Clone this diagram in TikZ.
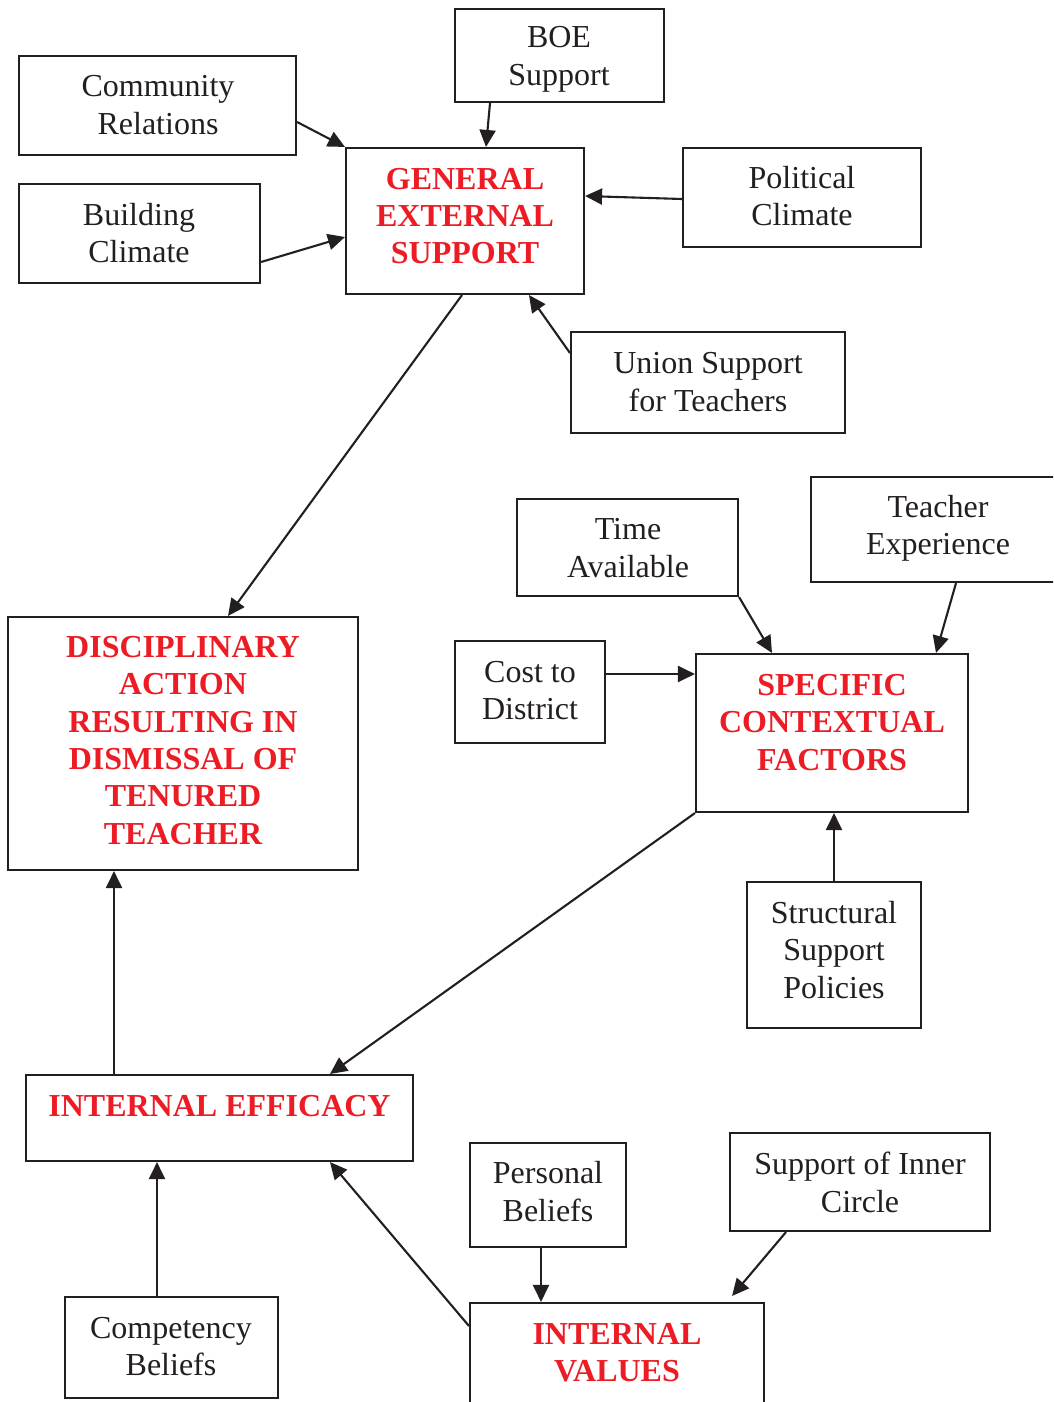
\documentclass[tikz,border=0pt]{standalone}
\usepackage{fontspec}
\setmainfont{Liberation Serif}
\usetikzlibrary{arrows.meta}
\definecolor{boxred}{RGB}{237,28,36}
\definecolor{ink}{RGB}{35,31,32}
\tikzset{
  box/.style={draw=ink, line width=2.1pt, inner sep=0pt},
  txt/.style={font={\fontsize{32}{37.5}\selectfont}, align=center, text=ink, inner sep=0pt},
  hd/.style={font={\fontsize{32}{37.3}\selectfont\bfseries}, align=center, text=boxred, inner sep=0pt},
  arr/.style={draw=ink, line width=2.1pt, -{Triangle[length=17pt,width=16pt]}}
}
\begin{document}
\begin{tikzpicture}[x=1pt,y=-1pt]
\clip (0,0) rectangle (1053,1402);
\fill[white] (0,0) rectangle (1053,1402);
% boxes
\node[box, minimum width=277pt, minimum height=99pt] (comm) at (157.5,105.5) {};
\node[box, minimum width=209pt, minimum height=93pt] (boe) at (559.5,55.5) {};
\node[box, minimum width=238pt, minimum height=146pt] (ges) at (465,221) {};
\node[box, minimum width=238pt, minimum height=99pt] (pol) at (802,197.5) {};
\node[box, minimum width=241pt, minimum height=99pt] (bld) at (139.5,233.5) {};
\node[box, minimum width=274pt, minimum height=101pt] (union) at (708,382.5) {};
\node[box, minimum width=221pt, minimum height=97pt] (time) at (627.5,547.5) {};
\node[box, minimum width=254pt, minimum height=105pt] (teach) at (938,529.5) {};
\node[box, minimum width=150pt, minimum height=102pt] (cost) at (530,692) {};
\node[box, minimum width=272pt, minimum height=158pt] (scf) at (832,733) {};
\node[box, minimum width=350pt, minimum height=253pt] (disc) at (183,743.5) {};
\node[box, minimum width=174pt, minimum height=146pt] (struct) at (834,955) {};
\node[box, minimum width=387pt, minimum height=86pt] (ie) at (219.5,1118) {};
\node[box, minimum width=156pt, minimum height=104pt] (pers) at (548,1195) {};
\node[box, minimum width=260pt, minimum height=98pt] (inner) at (860,1182) {};
\node[box, minimum width=213pt, minimum height=101pt] (comp) at (171.5,1347.5) {};
\node[box, minimum width=294pt, minimum height=120pt] (iv) at (617,1363) {};
% texts
\node[txt] (t-comm) at (158,105) {Community\\Relations};
\node[txt] (t-boe) at (559,59.5) {BOE\\Support};
\node[hd] (t-ges) at (465,216) {GENERAL\\EXTERNAL\\SUPPORT};
\node[txt] (t-pol) at (802,196) {Political\\Climate};
\node[txt] (t-bld) at (139,233) {Building\\Climate};
\node[txt] (t-union) at (708,382) {Union Support\\for Teachers};
\node[txt] (t-time) at (628,548) {Time\\Available};
\node[txt] (t-teach) at (938,528.5) {Teacher\\Experience};
\node[txt] (t-cost) at (530,690.5) {Cost to\\District};
\node[hd] (t-scf) at (832,722.5) {SPECIFIC\\CONTEXTUAL\\FACTORS};
\node[hd] (t-disc) at (183,740.5) {DISCIPLINARY\\ACTION\\RESULTING IN\\DISMISSAL OF\\TENURED\\TEACHER};
\node[txt] (t-struct) at (834,950) {Structural\\Support\\Policies};
\node[hd] (t-ie) at (219.5,1106) {INTERNAL EFFICACY};
\node[txt] (t-pers) at (548,1191.5) {Personal\\Beliefs};
\node[txt] (t-inner) at (860,1182.5) {Support of Inner\\Circle};
\node[txt] (t-comp) at (171,1346.5) {Competency\\Beliefs};
\node[hd] (t-iv) at (617,1352.5) {INTERNAL\\VALUES};
% connectors
\draw[arr] ([yshift=-16.5pt]comm.east) -- (ges.north west);
\draw[arr] ([xshift=-69.5pt]boe.south) -- ([xshift=21pt]ges.north);
\draw[arr] ([yshift=-1.5pt]pol.west) -- ([yshift=25pt]ges.east);
\draw[arr] ([yshift=-28.5pt]bld.east) -- ([yshift=-16pt]ges.west);
\draw[arr] ([yshift=29.5pt]union.west) -- ([xshift=64pt]ges.south);
\draw[arr] ([xshift=-3pt]ges.south) -- ([xshift=45pt]disc.north);
\draw[arr] (time.south east) -- ([xshift=-60pt]scf.north);
\draw[arr] ([xshift=18pt]teach.south) -- ([xshift=104pt]scf.north);
\draw[arr] ([yshift=18pt]cost.east) -- ([yshift=59pt]scf.west);
\draw[arr] (struct.north) -- ([xshift=2pt]scf.south);
\draw[arr] (scf.south west) -- ([xshift=110.5pt]ie.north);
\draw[arr] ([xshift=-105.5pt]ie.north) -- ([xshift=-69pt]disc.south);
\draw[arr] ([xshift=-14.5pt]comp.north) -- ([xshift=-62.5pt]ie.south);
\draw[arr] ([yshift=-24pt]iv.north west) -- ([xshift=110.5pt]ie.south);
\draw[arr] ([xshift=-7pt]pers.south) -- ([xshift=-76pt]iv.north);
\draw[arr] ([xshift=-74pt]inner.south) -- ([xshift=-33pt,yshift=6pt]iv.north east);
\end{tikzpicture}
\end{document}
